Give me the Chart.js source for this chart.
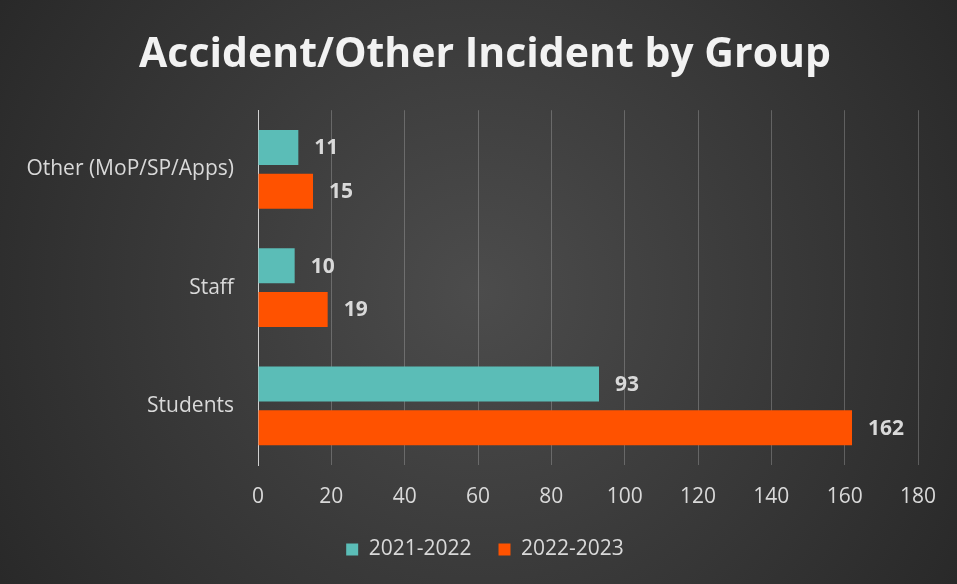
<!DOCTYPE html>
<html lang="en">
  <head>
    <meta charset="UTF-8" />
    <title>Accident/Other Incident by Group</title>
    <script src="https://cdn.jsdelivr.net/npm/chart.js"></script>
    <style>
      html,
      body {
        margin: 0;
        padding: 0;
        background: #333333;
      }
      #chart {
        display: block;
      }
    </style>
  </head>
  <body>
    <canvas id="chart" width="957" height="584"></canvas>

    <script>
      const categories = ['Other (MoP/SP/Apps)', 'Staff', 'Students'];
      const seriesNames = ['2021-2022', '2022-2023'];
      const values2021 = [11, 10, 93];
      const values2022 = [15, 19, 162];
      const xMax = 180;
      const xStep = 20;

      const labelColor = '#d9d9d9';
      const fontFamily = "'Open Sans', 'Noto Sans', sans-serif";

      // dark radial background like the Excel style
      const backgroundPlugin = {
        id: 'darkBackground',
        beforeDraw(chart) {
          const ctx = chart.ctx;
          const w = chart.width;
          const h = chart.height;
          const g = ctx.createRadialGradient(w * 0.5, h * 0.5, 0, w * 0.5, h * 0.5, w * 0.6);
          g.addColorStop(0, '#4c4c4c');
          g.addColorStop(1, '#282828');
          ctx.save();
          ctx.fillStyle = g;
          ctx.fillRect(0, 0, w, h);
          ctx.restore();
        },
        // let the long category label run into the left padding instead of being clipped
        afterLayout(chart) {
          chart.scales.y.left = 0;
        },
      };

      // value labels at the end of each bar
      const valueLabels = {
        id: 'valueLabels',
        afterDatasetsDraw(chart) {
          const ctx = chart.ctx;
          ctx.save();
          ctx.font = 'bold 21px ' + fontFamily;
          ctx.fillStyle = labelColor;
          ctx.textAlign = 'left';
          ctx.textBaseline = 'middle';
          chart.data.datasets.forEach((ds, i) => {
            chart.getDatasetMeta(i).data.forEach((bar, j) => {
              ctx.fillText(ds.data[j], bar.x + 16, bar.y + 1);
            });
          });
          ctx.restore();
        },
      };

      const ctx = document.getElementById('chart').getContext('2d');
      new Chart(ctx, {
        type: 'bar',
        data: {
          labels: categories,
          datasets: [
            {
              label: seriesNames[0],
              data: values2021,
              backgroundColor: '#5bbdb7',
            },
            {
              label: seriesNames[1],
              data: values2022,
              backgroundColor: '#ff5200',
            },
          ],
        },
        options: {
          indexAxis: 'y',
          responsive: false,
          animation: false,
          devicePixelRatio: 1,
          categoryPercentage: 0.74,
          barPercentage: 0.8,
          layout: {
            padding: { left: 52, right: 39, top: 0, bottom: 14 },
          },
          scales: {
            x: {
              min: 0,
              max: xMax,
              ticks: {
                stepSize: xStep,
                color: labelColor,
                font: { size: 21, family: fontFamily },
                padding: 19,
              },
              grid: {
                color: 'rgba(217,217,217,0.28)',
                lineWidth: 1,
                drawTicks: false,
              },
              border: { display: false },
              afterFit(scale) {
                scale.height = 47;
              },
            },
            y: {
              ticks: {
                color: labelColor,
                font: { size: 21, family: fontFamily },
                padding: 24,
              },
              grid: { display: false, drawTicks: false },
              border: { color: '#d0d0d0', width: 1 },
              afterFit(scale) {
                scale.width = 206;
              },
            },
          },
          plugins: {
            title: {
              display: true,
              text: 'Accident/Other Incident by Group',
              color: '#f2f2f2',
              font: { size: 41, weight: 'bold', family: fontFamily },
              padding: { top: 31, bottom: 30 },
            },
            legend: {
              position: 'bottom',
              labels: {
                color: labelColor,
                font: { size: 21, family: fontFamily },
                boxWidth: 12,
                boxHeight: 12,
                padding: 27,
              },
            },
            tooltip: { enabled: false },
          },
        },
        plugins: [backgroundPlugin, valueLabels],
      });
    </script>
  </body>
</html>
